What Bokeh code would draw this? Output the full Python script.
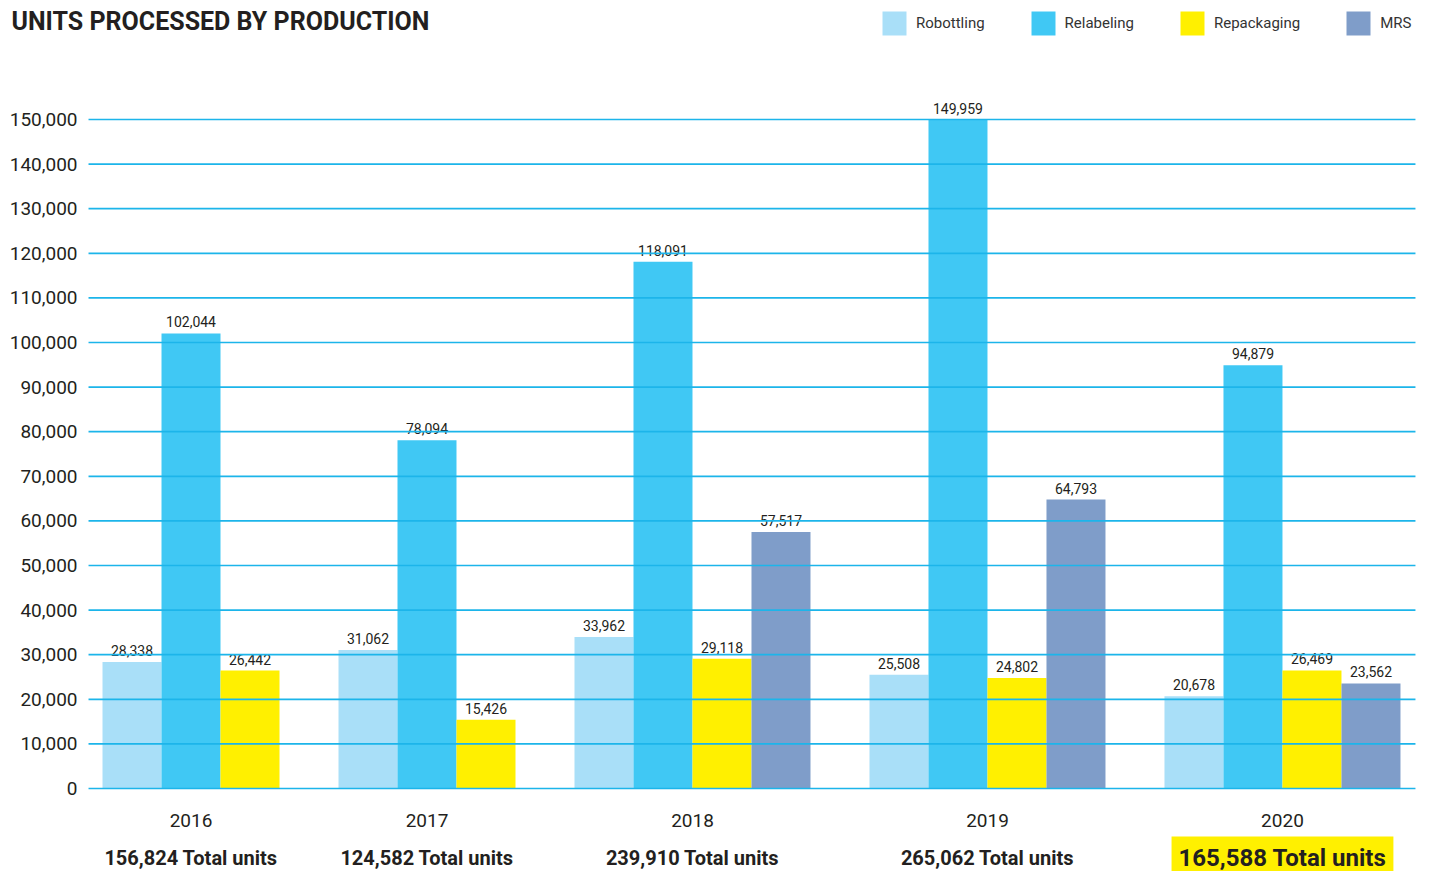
from bokeh.plotting import figure
from bokeh.models import Range1d, Label, Legend, LegendItem, ColumnDataSource
from bokeh.core.properties import value
from bokeh.embed import file_html
from bokeh.resources import INLINE

years = ["2016", "2017", "2018", "2019", "2020"]
series_names = ["Robottling", "Relabeling", "Repackaging", "MRS"]
robottling = [28338, 31062, 33962, 25508, 20678]
relabeling = [102044, 78094, 118091, 149959, 94879]
repackaging = [26442, 15426, 29118, 24802, 26469]
mrs = [None, None, 57517, 64793, 23562]
totals = [156824, 124582, 239910, 265062, 165588]
colors = ["#a9dff8", "#40c8f4", "#fff000", "#7f9dc9"]
y_ticks = list(range(0, 150001, 10000))

FONT = "Roboto"
TXT = "#231f20"
GRID = "#1cb5ea"
W, H = 1429, 871

all_series = [robottling, relabeling, repackaging, mrs]

# bar slots: consecutive bars per year, one empty slot between groups
xs = {name: [] for name in series_names}
vals = {name: [] for name in series_names}
centers = []
pos = 0
for i, yr in enumerate(years):
    start = pos
    for name, ser in zip(series_names, all_series):
        v = ser[i]
        if v is None:
            continue
        xs[name].append(pos + 0.5)
        vals[name].append(v)
        pos += 1
    centers.append((start + pos) / 2)
    pos += 1

X0, X1 = -1.729, 22.492
GRID_X0, GRID_X1 = -0.237, 22.254

p = figure(width=W, height=H, output_backend="svg", toolbar_location=None,
           x_axis_location=None, y_axis_location=None,
           x_range=Range1d(X0, X1), y_range=Range1d(-18610, 176682),
           min_border_left=0, min_border_right=0, min_border_top=0, min_border_bottom=0)
p.outline_line_color = None
p.background_fill_color = "white"
p.border_fill_color = "white"
p.grid.visible = False

renderers = []
for name, col in zip(series_names, colors):
    src = ColumnDataSource(dict(x=xs[name], top=vals[name],
                                lab=[f"{v:,}" for v in vals[name]]))
    r = p.vbar(x="x", top="top", width=1, bottom=0, source=src, fill_color=col, line_color=None)
    renderers.append(r)
    p.text(x="x", y="top", text="lab", source=src, text_align="center",
           text_baseline="bottom", y_offset=-6, text_font=value(FONT),
           text_font_size="14px", text_color=TXT)

# y tick labels
tick_src = ColumnDataSource(dict(y=y_ticks, lab=[f"{t:,}" for t in y_ticks],
                                 x0=[GRID_X0] * len(y_ticks), x1=[GRID_X1] * len(y_ticks)))
p.text(x="x0", y="y", text="lab", source=tick_src, text_align="right",
       text_baseline="middle", x_offset=-11, text_font=value(FONT),
       text_font_size="19px", text_color=TXT)

# horizontal grid lines drawn over the bars
p.segment(x0="x0", y0="y", x1="x1", y1="y", source=tick_src, line_color=GRID,
          line_width=1.7, level="overlay")

# year labels and totals below bars
for i, (c, yr, t) in enumerate(zip(centers, years, totals)):
    p.add_layout(Label(x=c, y=H - 820, x_units="data", y_units="screen", text=yr,
                       text_align="center", text_baseline="middle", text_font=FONT,
                       text_font_size="19px", text_color=TXT))
    last = i == len(years) - 1
    lbl = Label(x=c, y=14, x_units="data", y_units="screen",
                text=f"{t:,} Total units", text_align="center", text_baseline="middle",
                text_font=FONT, text_font_style="bold",
                text_font_size="24px" if last else "20px", text_color=TXT)
    if last:
        lbl.background_fill_color = "#fff000"
        lbl.padding = 7
    p.add_layout(lbl)

# title
p.add_layout(Label(x=11, y=H - 21, x_units="screen", y_units="screen",
                   text="UNITS PROCESSED BY PRODUCTION", text_font=FONT,
                   text_font_style="bold", text_font_size="25px", text_color=TXT,
                   text_baseline="middle", text_align="left"))

legend = Legend(items=[LegendItem(label=n, renderers=[r]) for n, r in zip(series_names, renderers)],
                orientation="horizontal", location=(879, H - 38),
                glyph_width=30, glyph_height=30, label_standoff=7, spacing=43,
                padding=0, margin=0, border_line_color=None, background_fill_alpha=0,
                label_text_font=FONT, label_text_font_size="15px", label_text_color="#333333",
                label_text_baseline="middle")
p.add_layout(legend)

open("out.html", "w").write(file_html(p, INLINE))
